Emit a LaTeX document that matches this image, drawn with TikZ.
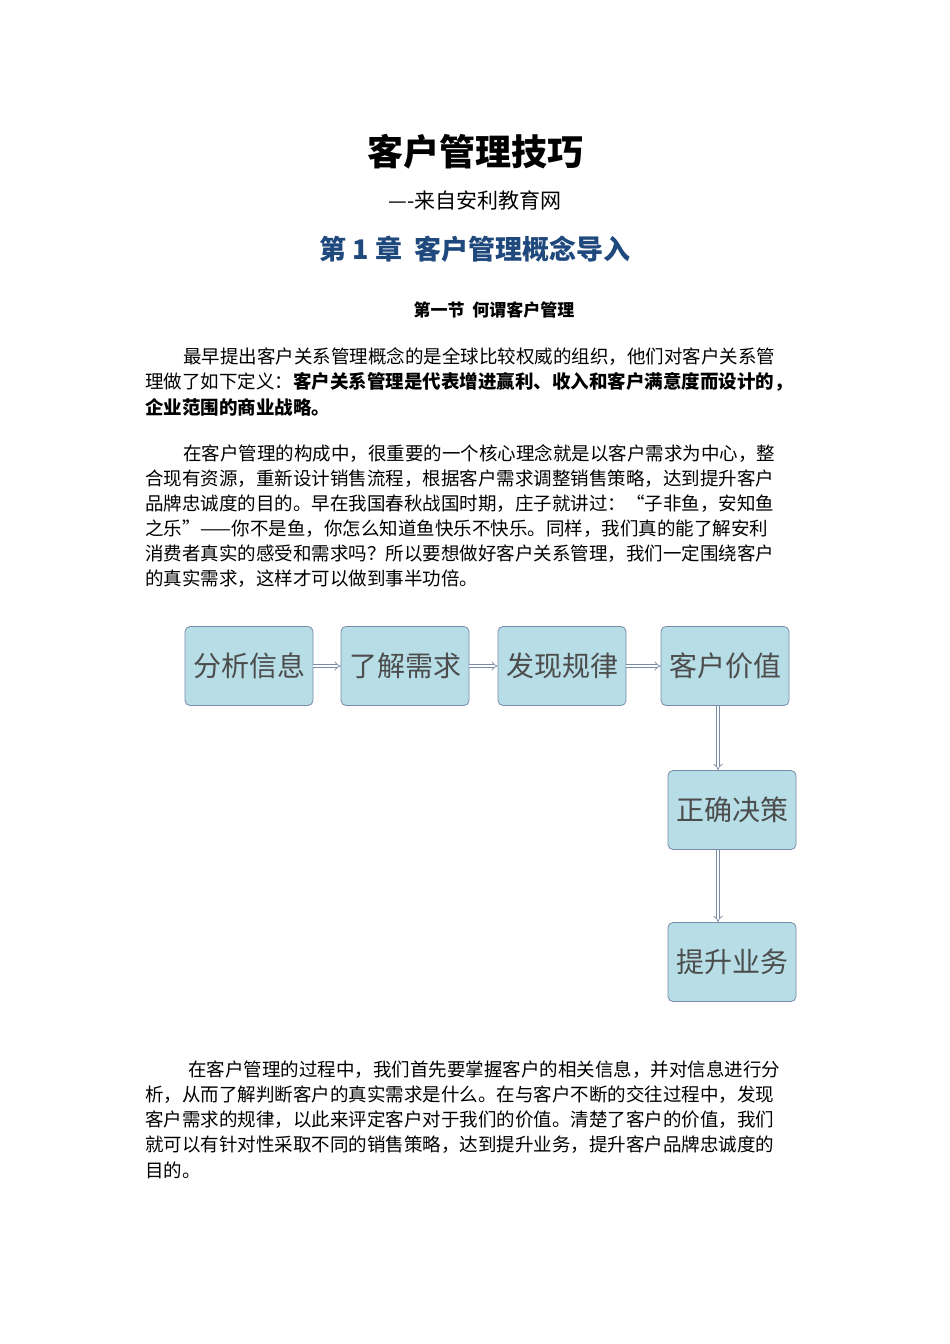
\documentclass[tikz,border=0pt]{standalone}
\usepackage{fontspec}
\setmainfont{Noto Sans CJK SC}
\usetikzlibrary{arrows.meta}
\definecolor{boxfill}{RGB}{183,222,230}
\definecolor{boxdraw}{RGB}{120,140,170}
\definecolor{chap}{RGB}{31,73,125}
\tikzset{
 flowbox/.style={draw=boxdraw,fill=boxfill,rounded corners=5pt,line width=0.8pt,minimum width=128pt,minimum height=79pt,inner sep=0pt,font=\fontsize{28}{30}\selectfont,text=black!70},
 flowarr/.style={draw=boxdraw,double=white,double distance=2.5pt,line width=0.7pt,-{Implies}},
 txt/.style={anchor=west,inner sep=0pt,font=\fontsize{18.5}{20}\selectfont},
}
\begin{document}
\begin{tikzpicture}[x=1pt,y=-1pt]
\useasboundingbox[fill=white] (0,0) rectangle (950,1344);
\node[inner sep=0pt,font=\fontsize{36}{40}\selectfont\bfseries] (t) at (475,152) {客户管理技巧};
\node[inner sep=0pt,font=\fontsize{21}{24}\selectfont] (st) at (475,200) {----来自安利教育网};
\node[inner sep=0pt,text=chap,font=\fontsize{27}{30}\selectfont\bfseries] (ch) at (475,249) {第 1 章\ \ 客户管理概念导入};
\node[inner sep=0pt,font=\fontsize{17}{20}\selectfont\bfseries] (sec) at (494,310) {第一节\ \ 何谓客户管理};
\node[txt] (p1) at (183,357) {最早提出客户关系管理概念的是全球比较权威的组织，他们对客户关系管};
\node[txt] (p2) at (145,382) {理做了如下定义：\textbf{客户关系管理是代表增进赢利、收入和客户满意度而设计的，}};
\node[txt] (p3) at (145,407) {\textbf{企业范围的商业战略。}};
\node[txt] (q1) at (183,454) {在客户管理的构成中，很重要的一个核心理念就是以客户需求为中心，整};
\node[txt] (q2) at (145,479) {合现有资源，重新设计销售流程，根据客户需求调整销售策略，达到提升客户};
\node[txt] (q3) at (145,504) {品牌忠诚度的目的。早在我国春秋战国时期，庄子就讲过：“子非鱼，安知鱼};
\node[txt] (q4) at (145,529) {之乐”——你不是鱼，你怎么知道鱼快乐不快乐。同样，我们真的能了解安利};
\node[txt] (q5) at (145,554) {消费者真实的感受和需求吗？所以要想做好客户关系管理，我们一定围绕客户};
\node[txt] (q6) at (145,579) {的真实需求，这样才可以做到事半功倍。};
\node[flowbox] (b1) at (249,666) {分析信息};
\node[flowbox] (b2) at (405,666) {了解需求};
\node[flowbox] (b3) at (562,666) {发现规律};
\node[flowbox] (b4) at (725,666) {客户价值};
\node[flowbox] (b5) at (732,810) {正确决策};
\node[flowbox] (b6) at (732,962) {提升业务};
\draw[flowarr] (b1.east) -- (b2.west);
\draw[flowarr] (b2.east) -- (b3.west);
\draw[flowarr] (b3.east) -- (b4.west);
\draw[flowarr] (718,706) -- (718,770);
\draw[flowarr] (718,850) -- (718,922);
\node[txt] (r1) at (188,1070) {在客户管理的过程中，我们首先要掌握客户的相关信息，并对信息进行分};
\node[txt] (r2) at (145,1095) {析，从而了解判断客户的真实需求是什么。在与客户不断的交往过程中，发现};
\node[txt] (r3) at (145,1120) {客户需求的规律，以此来评定客户对于我们的价值。清楚了客户的价值，我们};
\node[txt] (r4) at (145,1145) {就可以有针对性采取不同的销售策略，达到提升业务，提升客户品牌忠诚度的};
\node[txt] (r5) at (145,1170) {目的。};
\end{tikzpicture}
\end{document}
